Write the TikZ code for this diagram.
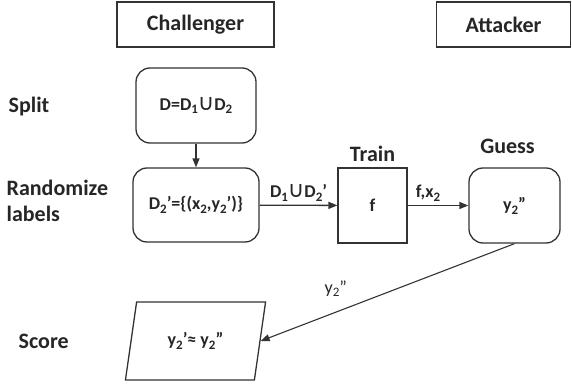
\documentclass[tikz,border=0pt]{standalone}
\usepackage{fontspec}
\setmainfont{Carlito}
\newfontfamily\symfam{DejaVu Sans}
\usetikzlibrary{shapes.geometric,arrows.meta,positioning}

\newcommand{\dn}[1]{\raisebox{-0.45ex}{\scalebox{0.72}{#1}}}
\newcommand{\un}{{\symfam\mdseries\scalebox{1.25}{∪}}}

\begin{document}
\begin{tikzpicture}[
    x=1pt, y=-1pt,
    font=\fontsize{18}{21}\selectfont\bfseries,
    every node/.style = {align=center, text=black!85},
    >={Triangle[length=9pt,width=7pt]},
    line width=1.3pt,
    role/.style = {draw=black!80, rectangle, minimum height=45pt, font=\fontsize{22}{26}\selectfont\bfseries},
    stepbox/.style = {draw=black!80, rectangle, rounded corners=14pt, minimum height=75pt},
    tag/.style = {inner sep=0pt, font=\fontsize{22}{26}\selectfont\bfseries},
  ]
    \useasboundingbox (0,0) rectangle (572,385);

    % roles
    \node[role, minimum width=157pt] (chal) at (195.5,24.5) {Challenger};
    \node[role, minimum width=134pt] (att) at (503.5,24.5) {Attacker};

    % phase names
    \node[tag, anchor=west] (splitlbl) at (8,107) {Split};
    \node[tag, anchor=west, align=left] (randlbl) at (6,201) {Randomize\\labels};
    \node[tag, anchor=west] (scorelbl) at (18,341) {Score};

    % steps
    \node[stepbox, minimum width=120pt] (split) at (196,105.5) {D=D\dn{1}\un D\dn{2}};
    \node[stepbox, minimum width=126pt, minimum height=74pt] (rand) at (196,205) {D\dn{2}'=\{(x\dn{2},y\dn{2}')\}};
    \node[draw=black!80, rectangle, line width=1.2pt, minimum width=69pt, minimum height=75pt] (train) at (372.5,205.5) {f};
    \node[tag, above=5pt of train] (trainlbl) {Train};
    \node[stepbox, minimum width=91pt] (guess) at (514.5,205.5) {y\dn{2}''};
    \node[tag] (guesslbl) at (507.5,146) {Guess};
    \node[draw=black!80, trapezium, trapezium left angle=76, trapezium right angle=104,
          trapezium stretches=true, minimum width=141pt, minimum height=78pt] (score) at (195.5,341) {y\dn{2}'≈ y\dn{2}''};

    \draw[->, black!80] (split) -- (rand);
    \draw[->, black!80] (rand) -- node[above] {D\dn{1}\un D\dn{2}'} (train);
    \draw[->, black!80] (train) -- node[above, xshift=-10pt] {f,x\dn{2}} (guess);
    \draw[->, black!80, line width=1.1pt] (guess.south) -- node[pos=0.7, above left, xshift=14pt, yshift=11pt, font=\fontsize{18}{21}\selectfont\mdseries] {y\dn{2}''} (score.east);
\end{tikzpicture}
\end{document}
